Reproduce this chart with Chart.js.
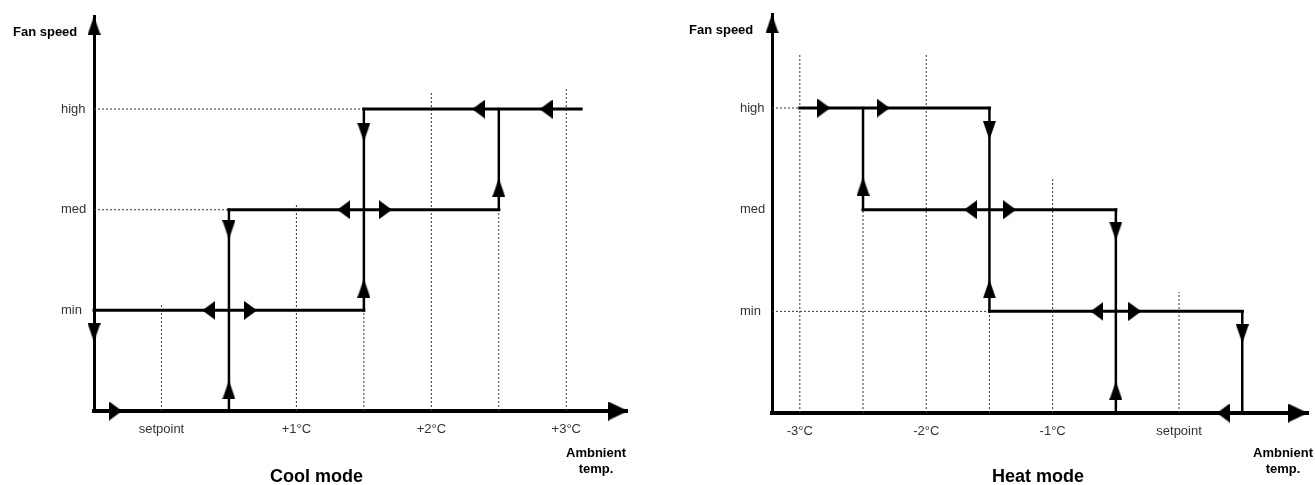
<!DOCTYPE html>
<html><head><meta charset="utf-8">
<script src="https://cdn.jsdelivr.net/npm/chart.js@4.4.1/dist/chart.umd.min.js"></script>
<style>
html,body{margin:0;padding:0;background:#fff;}
#wrap{position:relative;width:1315px;height:485px;overflow:hidden;background:#fff;}
canvas{position:absolute;top:0;}
#cool{left:0;}
#heat{left:660px;}
.lbl{position:absolute;font-family:'Liberation Sans',Arial,sans-serif;font-weight:bold;color:#000;white-space:nowrap;}
.sm{font-size:13px;line-height:16px;}
.ctr{text-align:center;width:100px;}
.big{font-size:18px;line-height:20px;}
</style></head><body>
<div id="wrap">
<canvas id="cool" width="660" height="485"></canvas>
<canvas id="heat" width="655" height="485"></canvas>
<div class="lbl sm" style="left:13px;top:24px;">Fan speed</div>
<div class="lbl sm" style="left:689px;top:22px;">Fan speed</div>
<div class="lbl sm ctr" style="left:546px;top:445px;">Ambnient<br>temp.</div>
<div class="lbl sm ctr" style="left:1233px;top:445px;">Ambnient<br>temp.</div>
<div class="lbl big" style="left:270px;top:466px;">Cool mode</div>
<div class="lbl big" style="left:992px;top:466px;">Heat mode</div>
</div>
<script>
// ---- shared levels (y axis) ----
const levelValues = [1, 2, 3];
const levelLabels = ['min', 'med', 'high'];
const levelMax = 3.925;

// ---- Cool mode ----
const coolTickValues = [0, 1, 2, 3];
const coolTickLabels = ['setpoint', '+1°C', '+2°C', '+3°C'];
const coolRange = [-0.5, 3.45];
// solid switching lines [x1, y1, x2, y2]
const coolSolid = [
  [-0.5, 1, 1.5, 1],
  [0.5, 0, 0.5, 2],
  [0.5, 2, 2.5, 2],
  [1.5, 1, 1.5, 3],
  [2.5, 2, 2.5, 3],
  [1.5, 3, 3.11, 3]
];
// dotted guide lines [x1, y1, x2, y2]
const coolDotted = [
  [-0.5, 3, 1.5, 3],
  [-0.5, 2, 0.5, 2],
  [0, 0, 0, 1.05],
  [1, 0, 1, 2.05],
  [1.5, 0, 1.5, 1],
  [2, 0, 2, 3.17],
  [2.5, 0, 2.5, 2],
  [3, 0, 3, 3.22]
];
// direction arrows [x, y, direction]
const coolArrows = [
  [-0.34, 0, 'right'],
  [-0.5, 0.78, 'down'],
  [0.35, 1, 'left'], [0.66, 1, 'right'],
  [0.5, 0.21, 'up'], [0.5, 1.80, 'down'],
  [1.35, 2, 'left'], [1.66, 2, 'right'],
  [1.5, 2.77, 'down'], [1.5, 1.22, 'up'],
  [2.5, 2.22, 'up'],
  [2.35, 3, 'left'], [2.85, 3, 'left'],
  [3.384, 0, 'axisRight'], [-0.5, 3.83, 'axisUp']
];

// ---- Heat mode ----
const heatTickValues = [-3, -2, -1, 0];
const heatTickLabels = ['-3°C', '-2°C', '-1°C', 'setpoint'];
const heatRange = [-3.22, 1.02];
const heatSolid = [
  [-3, 3, -1.5, 3],
  [-2.5, 2, -2.5, 3],
  [-1.5, 1, -1.5, 3],
  [-2.5, 2, -0.5, 2],
  [-0.5, 0, -0.5, 2],
  [-1.5, 1, 0.5, 1],
  [0.5, 0, 0.5, 1]
];
const heatDotted = [
  [-3.22, 3, -3, 3],
  [-3.22, 1, -1.5, 1],
  [-3, 0, -3, 3.54],
  [-2.5, 0, -2.5, 2],
  [-2, 0, -2, 3.54],
  [-1.5, 0, -1.5, 1],
  [-1, 0, -1, 2.3],
  [0, 0, 0, 1.19]
];
const heatArrows = [
  [-2.81, 3, 'right'], [-2.34, 3, 'right'],
  [-2.5, 2.23, 'up'],
  [-1.5, 2.78, 'down'], [-1.5, 1.22, 'up'],
  [-1.65, 2, 'left'], [-1.34, 2, 'right'],
  [-0.5, 1.79, 'down'], [-0.5, 0.22, 'up'],
  [-0.65, 1, 'left'], [-0.35, 1, 'right'],
  [0.5, 0.78, 'down'],
  [0.35, 0, 'left'],
  [0.94, 0, 'axisRight'], [-3.22, 3.83, 'axisUp']
];

const TICK_FONT = "'Liberation Sans', Arial, sans-serif";

function arrowImg(dir) {
  const w = dir === 'axisRight' ? 20 : 13;
  const h = 19;
  const c = document.createElement('canvas');
  c.width = w; c.height = h;
  const g = c.getContext('2d');
  g.fillStyle = '#000';
  g.beginPath();
  if (dir === 'up' || dir === 'axisUp') { g.moveTo(w / 2, 0); g.lineTo(w, h); g.lineTo(0, h); }
  else if (dir === 'down') { g.moveTo(0, 0); g.lineTo(w, 0); g.lineTo(w / 2, h); }
  else if (dir === 'left') { g.moveTo(0, h / 2); g.lineTo(w, 0); g.lineTo(w, h); }
  else { g.moveTo(0, 0); g.lineTo(w, h / 2); g.lineTo(0, h); }
  g.closePath();
  g.fill();
  return c;
}
const arrowImgs = {};
['up', 'down', 'left', 'right', 'axisUp', 'axisRight'].forEach(d => arrowImgs[d] = arrowImg(d));

function seg(s) { return [{ x: s[0], y: s[1] }, { x: s[2], y: s[3] }]; }

function build(id, o) {
  const datasets = [];
  datasets.push({
    data: o.arrows.map(a => ({ x: a[0], y: a[1] })),
    pointStyle: o.arrows.map(a => arrowImgs[a[2]]),
    pointRadius: 6, showLine: false, order: 0, clip: false
  });
  o.solid.forEach(s => datasets.push({
    data: seg(s), showLine: true, borderColor: '#000',
    borderWidth: s[0] === s[2] ? 2.5 : 3, borderCapStyle: 'square',
    pointRadius: 0, order: 1, clip: false
  }));
  o.dotted.forEach(s => datasets.push({
    data: seg(s), showLine: true, borderColor: '#333', borderWidth: 1,
    borderDash: [2, 2], pointRadius: 0, order: 2, clip: false
  }));
  new Chart(document.getElementById(id), {
    type: 'scatter',
    data: { datasets },
    options: {
      responsive: false, animation: false, events: [],
      layout: { padding: o.pad },
      plugins: { legend: { display: false }, tooltip: { enabled: false } },
      scales: {
        x: {
          type: 'linear', position: 'bottom', min: o.range[0], max: o.range[1],
          grid: { display: false, drawTicks: false },
          border: { display: true, color: '#000', width: 4 },
          ticks: {
            padding: 11, color: '#333', autoSkip: false, maxRotation: 0,
            font: { family: TICK_FONT, size: 13 },
            callback: v => { const i = o.tickValues.indexOf(v); return i < 0 ? '' : o.tickLabels[i]; }
          },
          afterBuildTicks: s => { s.ticks = o.tickValues.map(v => ({ value: v })); },
          afterFit: s => { s.height = o.xh; }
        },
        y: {
          type: 'linear', min: 0, max: levelMax,
          grid: { display: false, drawTicks: false },
          border: { display: true, color: '#000', width: 3 },
          ticks: {
            padding: 0, color: '#333', crossAlign: 'far', autoSkip: false,
            font: { family: TICK_FONT, size: 13 },
            callback: v => { const i = levelValues.indexOf(v); return i < 0 ? '' : levelLabels[i]; }
          },
          afterBuildTicks: s => { s.ticks = levelValues.map(v => ({ value: v })); },
          afterFit: s => { s.width = o.yw; }
        }
      }
    }
  });
}

build('cool', {
  range: coolRange, tickValues: coolTickValues, tickLabels: coolTickLabels,
  solid: coolSolid, dotted: coolDotted, arrows: coolArrows,
  pad: { left: 61, top: 16, right: 33, bottom: 0 }, xh: 74, yw: 33
});
build('heat', {
  range: heatRange, tickValues: heatTickValues, tickLabels: heatTickLabels,
  solid: heatSolid, dotted: heatDotted, arrows: heatArrows,
  pad: { left: 80, top: 14, right: 2, bottom: 0 }, xh: 72, yw: 32
});
</script>
</body></html>
